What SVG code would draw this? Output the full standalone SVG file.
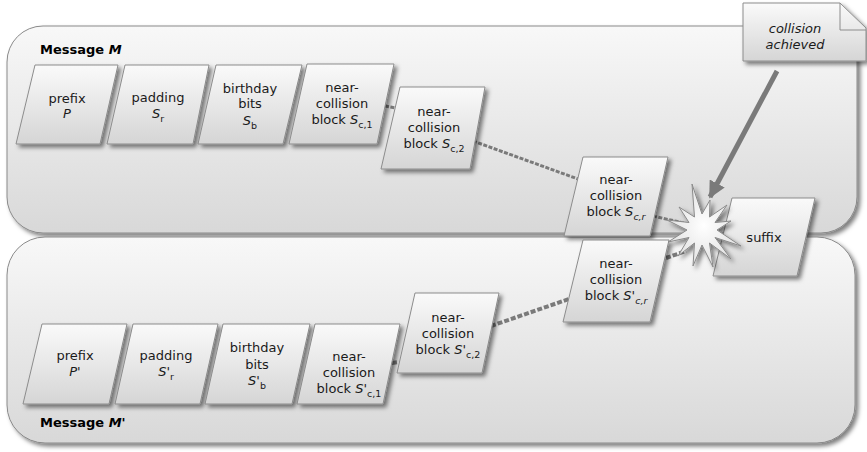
<svg xmlns="http://www.w3.org/2000/svg" width="867" height="452" viewBox="0 0 867 452">
<defs>
<linearGradient id="gCont" x1="0" y1="0" x2="0" y2="1">
<stop offset="0" stop-color="#f8f8f8"/>
<stop offset="1" stop-color="#d8d8d8"/>
</linearGradient>
<linearGradient id="gNode" x1="0" y1="0" x2="0" y2="1">
<stop offset="0" stop-color="#fafafa"/>
<stop offset="1" stop-color="#d5d5d5"/>
</linearGradient>
<radialGradient id="gStar" cx="0.5" cy="0.5" r="0.5">
<stop offset="0" stop-color="#ffffff"/>
<stop offset="1" stop-color="#e2e2e2"/>
</radialGradient>
<filter id="sh" x="-20%" y="-20%" width="140%" height="140%">
<feDropShadow dx="3" dy="3" stdDeviation="2" flood-color="#000" flood-opacity="0.5"/>
</filter>
<marker id="ah" viewBox="0 0 10 10" refX="9" refY="5" markerWidth="3.4" markerHeight="3.4" orient="auto" markerUnits="strokeWidth">
<path d="M0,0 L10,5 L0,10 z" fill="#7a7a7a"/>
</marker>
<style>
.cont{fill:url(#gCont);stroke:#8a8a8a;stroke-width:1;filter:url(#sh)}
.node{fill:url(#gNode);stroke:#8c8c8c;stroke-width:1;filter:url(#sh)}
text{font-family:"DejaVu Sans","Verdana",sans-serif;font-size:13px;fill:#1a1a1a;text-anchor:middle}
.title{font-weight:bold;text-anchor:start;fill:#000}
.it{font-style:italic}
.sub{font-size:9.5px}
.dash{fill:none;stroke:#7a7a7a;stroke-width:3;stroke-dasharray:4 1.5}
.dashw{fill:none;stroke:#7a7a7a;stroke-width:4;stroke-dasharray:5 2}
</style>
</defs>

<g id="containers">
<g id="messageM">
<rect class="cont" x="7" y="26" width="850" height="207" rx="36" ry="36"/>
<text class="title" x="40" y="54">Message <tspan class="it">M</tspan></text>
</g>
<g id="messageM2">
<rect class="cont" x="7" y="237" width="848" height="206" rx="38" ry="38"/>
<text class="title" x="40" y="427">Message <tspan class="it">M'</tspan></text>
</g>
</g>

<g id="connectors">
<line class="dash" x1="385" y1="106" x2="396" y2="108"/>
<line class="dash" x1="473" y1="141" x2="578" y2="179"/>
<line class="dash" x1="653" y1="216" x2="688" y2="224"/>
<line class="dashw" x1="392" y1="363" x2="399" y2="362"/>
<line class="dashw" x1="491" y1="326" x2="569" y2="299"/>
<line class="dashw" x1="666" y1="258" x2="686" y2="251"/>
</g>

<g id="n-prefix">
<polygon class="node" points="35,65 118,65 100,144 16,144"/>
<text x="67" y="103">prefix</text>
<text x="67" y="118" class="it">P</text>
</g>
<g id="n-padding">
<polygon class="node" points="125,65 209,65 193,144 107,144"/>
<text x="158" y="102">padding</text>
<text x="158" y="118"><tspan class="it">S</tspan><tspan class="sub" dy="4">r</tspan></text>
</g>
<g id="n-birthday">
<polygon class="node" points="216,65 302,65 283,144 198,144"/>
<text x="250" y="93">birthday</text>
<text x="250" y="108">bits</text>
<text x="250" y="125"><tspan class="it">S</tspan><tspan class="sub" dy="4">b</tspan></text>
</g>
<g id="n-sc1">
<polygon class="node" points="307,64 394,64 377,144 289,144"/>
<text x="342" y="92">near-</text>
<text x="342" y="108">collision</text>
<text x="342" y="124">block <tspan class="it">S</tspan><tspan class="sub" dy="4">c,1</tspan></text>
</g>
<g id="n-sc2">
<polygon class="node" points="400,87 485,87 470,169 381,169"/>
<text x="434" y="116">near-</text>
<text x="434" y="132">collision</text>
<text x="434" y="148">block <tspan class="it">S</tspan><tspan class="sub" dy="4">c,2</tspan></text>
</g>
<g id="n-scr">
<polygon class="node" points="583,157 668,157 650,236 564,236"/>
<text x="616" y="184">near-</text>
<text x="616" y="200">collision</text>
<text x="616" y="216">block <tspan class="it">S</tspan><tspan class="sub it" dy="4">c,r</tspan></text>
</g>
<g id="n-suffix">
<polygon class="node" points="732,198 815,198 797,276 713,276"/>
<text x="764" y="242">suffix</text>
</g>

<g id="m-prefix">
<polygon class="node" points="42,324 127,324 109,404 23,404"/>
<text x="75" y="360">prefix</text>
<text x="75" y="376" class="it">P'</text>
</g>
<g id="m-padding">
<polygon class="node" points="133,324 218,324 200,404 115,404"/>
<text x="166" y="360">padding</text>
<text x="166" y="376"><tspan class="it">S'</tspan><tspan class="sub" dy="4">r</tspan></text>
</g>
<g id="m-birthday">
<polygon class="node" points="223,324 310,324 292,404 205,404"/>
<text x="257" y="352">birthday</text>
<text x="257" y="369">bits</text>
<text x="257" y="385"><tspan class="it">S'</tspan><tspan class="sub" dy="4">b</tspan></text>
</g>
<g id="m-sc1">
<polygon class="node" points="315,324 400,324 383,404 297,404"/>
<text x="349" y="361">near-</text>
<text x="349" y="377">collision</text>
<text x="349" y="393">block <tspan class="it">S'</tspan><tspan class="sub" dy="4">c,1</tspan></text>
</g>
<g id="m-sc2">
<polygon class="node" points="415,293 499,293 482,373 397,373"/>
<text x="448" y="322">near-</text>
<text x="448" y="338">collision</text>
<text x="448" y="354">block <tspan class="it">S'</tspan><tspan class="sub" dy="4">c,2</tspan></text>
</g>
<g id="m-scr">
<polygon class="node" points="583,240 669,240 650,322 563,322"/>
<text x="616" y="268">near-</text>
<text x="616" y="284">collision</text>
<text x="616" y="300">block <tspan class="it">S'</tspan><tspan class="sub it" dy="4">c,r</tspan></text>
</g>

<g id="collision-star">
<polygon fill="url(#gStar)" stroke="#8a8a8a" stroke-width="1" filter="url(#sh)" points="692,184 702,214 710,200 709.5,217 727,205 715,222.5 731,221 717,230 741,246 715,237.5 731,259 709.5,243 713,267 702,245 693,266 694.5,243 678,256 689,237.5 668,242 687,230 667,220 689,222.5 679,207 694.5,217"/>
</g>

<g id="collision-note">
<line x1="777" y1="71" x2="710" y2="197" stroke="#7a7a7a" stroke-width="5" marker-end="url(#ah)"/>
<path d="M743,3 L840,3 L866,28 L866,61 L743,61 Z" fill="url(#gNode)" stroke="#8c8c8c" stroke-width="1" filter="url(#sh)"/>
<path d="M840,3 L840,30 L866,30" fill="none" stroke="#8c8c8c" stroke-width="1"/>
<text x="795" y="33" class="it">collision</text>
<text x="795" y="49" class="it">achieved</text>
</g>
</svg>
